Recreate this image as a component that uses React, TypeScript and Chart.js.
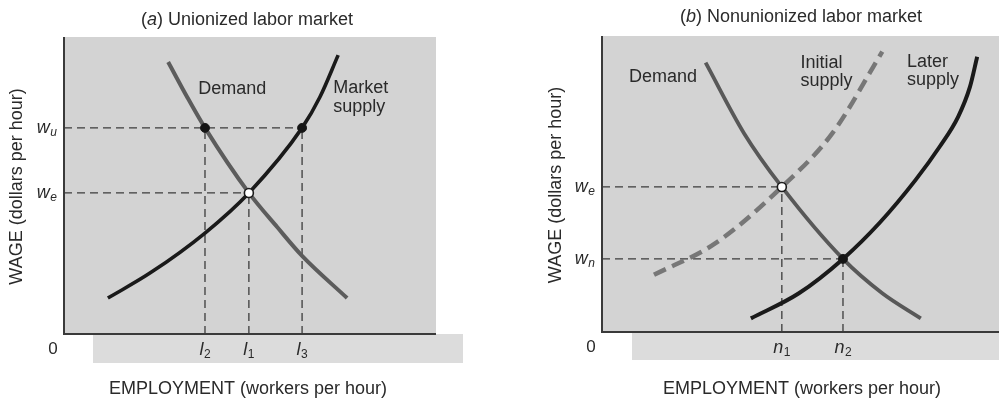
import React, { useEffect, useRef } from "react";
import { Chart, registerables } from "chart.js";

Chart.register(...registerables);

// ---------- Panel (a): unionized labor market ----------
const leftTitle = ["(", "a", ") Unionized labor market"];
const leftDemandX = [28.0, 33.1, 37.9, 49.7, 57.3, 64.0, 76.1];
const leftDemandY = [91.6, 79.8, 69.4, 47.5, 36.0, 26.3, 12.1];
const leftSupplyX = [11.8, 23.1, 37.9, 49.7, 64.0, 68.8, 73.7];
const leftSupplyY = [12.1, 20.5, 34.0, 47.5, 69.4, 79.8, 93.9];
const L2 = 37.9;
const L1 = 49.7;
const L3 = 64.0;
const WU = 69.4;
const WE_A = 47.5;
const leftXTicks = [
  { value: L2, main: "l", sub: "2" },
  { value: L1, main: "l", sub: "1" },
  { value: L3, main: "l", sub: "3" },
];
const leftYTicks = [
  { value: WU, main: "w", sub: "u" },
  { value: WE_A, main: "w", sub: "e" },
];
const leftCurveLabels = [
  { lines: ["Demand"], x: 36.1, y: [82.6] },
  { lines: ["Market", "supply"], x: 72.4, y: [82.7, 76.5] },
];

// ---------- Panel (b): nonunionized labor market ----------
const rightTitle = ["(", "b", ") Nonunionized labor market"];
const rightDemandX = [26.1, 35.8, 45.3, 60.7, 70.6, 80.3];
const rightDemandY = [91.0, 67.1, 49.0, 24.7, 13.1, 4.6];
const initialSupplyX = [13.1, 28.6, 45.3, 58.0, 70.6];
const initialSupplyY = [19.3, 30.0, 49.0, 67.1, 94.7];
const laterSupplyX = [37.5, 49.6, 60.7, 70.0, 79.0, 85.0, 89.7, 92.7, 94.5];
const laterSupplyY = [4.6, 13.1, 24.7, 37.0, 51.4, 62.5, 72.7, 82.9, 93.0];
const N1 = 45.3;
const N2 = 60.7;
const WE_B = 49.0;
const WN = 24.7;
const rightXTicks = [
  { value: N1, main: "n", sub: "1" },
  { value: N2, main: "n", sub: "2" },
];
const rightYTicks = [
  { value: WE_B, main: "w", sub: "e" },
  { value: WN, main: "w", sub: "n" },
];
const rightCurveLabels = [
  { lines: ["Demand"], x: 6.8, y: [86.1] },
  { lines: ["Initial", "supply"], x: 50.0, y: [90.9, 84.8] },
  { lines: ["Later", "supply"], x: 76.8, y: [91.1, 85.0] },
];

const xTitle = "EMPLOYMENT (workers per hour)";
const yTitle = "WAGE (dollars per hour)";

const FONT = '"Liberation Sans", Arial, Helvetica, sans-serif';
const TEXT = "#2a2a2a";
const BOX = "#d3d3d3";
const STRIP = "#dcdcdc";

const pts = (xs: number[], ys: number[]) => xs.map((x, i) => ({ x, y: ys[i] }));

function curve(xs: number[], ys: number[], color: string, width: number, dash?: number[]) {
  return {
    data: pts(xs, ys),
    showLine: true,
    borderColor: color,
    borderWidth: width,
    borderDash: dash || [],
    borderCapStyle: "butt",
    cubicInterpolationMode: "monotone",
    pointRadius: 0,
    fill: false,
  };
}

function guide(a: { x: number; y: number }, b: { x: number; y: number }) {
  return {
    data: [a, b],
    showLine: true,
    borderColor: "#3c3c3c",
    borderWidth: 1.3,
    borderDash: [8, 5],
    pointRadius: 0,
    tension: 0,
    fill: false,
  };
}

function dots(list: { x: number; y: number }[], open: boolean) {
  return {
    data: list,
    showLine: false,
    pointRadius: 4.5,
    pointBackgroundColor: open ? "#ffffff" : "#151515",
    pointBorderColor: "#1c1c1c",
    pointBorderWidth: open ? 1.6 : 1,
  };
}

function drawSub(ctx: CanvasRenderingContext2D, main: string, sub: string, x: number, y: number, align: string) {
  ctx.font = `italic 18px ${FONT}`;
  const wm = ctx.measureText(main).width;
  const subIsDigit = /\d/.test(sub);
  const subFont = `${subIsDigit ? "" : "italic "}12px ${FONT}`;
  ctx.font = subFont;
  const ws = ctx.measureText(sub).width;
  const total = wm + ws + 0.5;
  const start = align === "right" ? x - total : x - total / 2;
  ctx.textAlign = "left";
  ctx.textBaseline = "middle";
  ctx.fillStyle = TEXT;
  ctx.font = `italic 18px ${FONT}`;
  ctx.fillText(main, start, y);
  ctx.font = subFont;
  ctx.fillText(sub, start + wm + 0.5, y + 5);
}

type PanelCfg = {
  width: number;
  padding: { left: number; right: number; top: number; bottom: number };
  title: string[];
  titleX: number;
  titleY: number;
  xTitleX: number;
  yTitleOffset: number;
  stripLeft: number;
  stripRight: number;
  stripBottom: number;
  xTicks: { value: number; main: string; sub: string }[];
  yTicks: { value: number; main: string; sub: string }[];
  labels: { lines: string[]; x: number; y: number[] }[];
  datasets: any[];
};

function makePlugin(cfg: PanelCfg) {
  return {
    id: "panelDecor",
    beforeDatasetsDraw(chart: any) {
      const { ctx, chartArea: a } = chart;
      ctx.save();
      ctx.fillStyle = STRIP;
      ctx.fillRect(a.left + cfg.stripLeft, a.bottom, a.right + cfg.stripRight - (a.left + cfg.stripLeft), cfg.stripBottom);
      ctx.fillStyle = BOX;
      ctx.fillRect(a.left, a.top, a.right - a.left, a.bottom - a.top);
      ctx.restore();
    },
    afterDatasetsDraw(chart: any) {
      const { ctx, chartArea: a, scales } = chart;
      const xs = scales.x;
      const ys = scales.y;
      ctx.save();
      // axes
      ctx.strokeStyle = "#3a3a3a";
      ctx.lineWidth = 2;
      ctx.setLineDash([]);
      ctx.beginPath();
      ctx.moveTo(a.left, a.top);
      ctx.lineTo(a.left, a.bottom);
      ctx.lineTo(a.right, a.bottom);
      ctx.stroke();

      // origin
      ctx.fillStyle = TEXT;
      ctx.font = `17px ${FONT}`;
      ctx.textAlign = "center";
      ctx.textBaseline = "middle";
      ctx.fillText("0", a.left - 11, a.bottom + 15);

      // ticks
      cfg.xTicks.forEach((t) => drawSub(ctx, t.main, t.sub, xs.getPixelForValue(t.value), a.bottom + 16, "center"));
      cfg.yTicks.forEach((t) => drawSub(ctx, t.main, t.sub, a.left - 7, ys.getPixelForValue(t.value), "right"));

      // curve labels
      ctx.fillStyle = TEXT;
      ctx.font = `18px ${FONT}`;
      ctx.textAlign = "left";
      ctx.textBaseline = "middle";
      cfg.labels.forEach((l) => {
        l.lines.forEach((line, i) => {
          ctx.fillText(line, xs.getPixelForValue(l.x), ys.getPixelForValue(l.y[i]));
        });
      });

      // titles
      const tx = cfg.titleX;
      ctx.textBaseline = "middle";
      ctx.font = `18px ${FONT}`;
      const p1 = ctx.measureText(cfg.title[0]).width;
      const p3 = ctx.measureText(cfg.title[2]).width;
      ctx.font = `italic 18px ${FONT}`;
      const p2 = ctx.measureText(cfg.title[1]).width;
      let sx = tx - (p1 + p2 + p3) / 2;
      ctx.textAlign = "left";
      ctx.font = `18px ${FONT}`;
      ctx.fillText(cfg.title[0], sx, cfg.titleY);
      sx += p1;
      ctx.font = `italic 18px ${FONT}`;
      ctx.fillText(cfg.title[1], sx, cfg.titleY);
      sx += p2;
      ctx.font = `18px ${FONT}`;
      ctx.fillText(cfg.title[2], sx, cfg.titleY);

      ctx.textAlign = "center";
      ctx.fillText(xTitle, cfg.xTitleX, 389);

      ctx.translate(a.left - cfg.yTitleOffset, (a.top + a.bottom) / 2 + 1);
      ctx.rotate(-Math.PI / 2);
      ctx.fillText(yTitle, 0, 0);
      ctx.restore();
    },
  };
}

function Panel({ cfg, left }: { cfg: PanelCfg; left: number }) {
  const ref = useRef<HTMLCanvasElement | null>(null);
  useEffect(() => {
    if (!ref.current) return;
    const chart = new Chart(ref.current, {
      type: "scatter",
      data: { datasets: cfg.datasets },
      options: {
        animation: false,
        responsive: false,
        maintainAspectRatio: false,
        events: [],
        layout: { padding: cfg.padding, autoPadding: false },
        scales: {
          x: { type: "linear", min: 0, max: 100, display: false },
          y: { type: "linear", min: 0, max: 100, display: false },
        },
        plugins: {
          legend: { display: false },
          tooltip: { enabled: false },
          title: { display: false },
        },
      } as any,
      plugins: [makePlugin(cfg)],
    } as any);
    return () => chart.destroy();
  }, []);
  return (
    <canvas
      ref={ref}
      width={cfg.width}
      height={401}
      style={{ position: "absolute", left, top: 0, width: cfg.width, height: 401 }}
    />
  );
}

const leftCfg: PanelCfg = {
  width: 499,
  padding: { left: 64, right: 63, top: 37, bottom: 67 },
  title: leftTitle,
  titleX: 247,
  titleY: 20,
  xTitleX: 248,
  yTitleOffset: 47,
  stripLeft: 29,
  stripRight: 27,
  stripBottom: 29,
  xTicks: leftXTicks,
  yTicks: leftYTicks,
  labels: leftCurveLabels,
  datasets: [
    dots([{ x: L2, y: WU }, { x: L3, y: WU }], false),
    dots([{ x: L1, y: WE_A }], true),
    curve(leftDemandX, leftDemandY, "#5c5c5c", 4),
    curve(leftSupplyX, leftSupplyY, "#1a1a1a", 3.6),
    guide({ x: 0, y: WU }, { x: L3, y: WU }),
    guide({ x: 0, y: WE_A }, { x: L1, y: WE_A }),
    guide({ x: L2, y: 0 }, { x: L2, y: WU }),
    guide({ x: L1, y: 0 }, { x: L1, y: WE_A }),
    guide({ x: L3, y: 0 }, { x: L3, y: WU }),
  ],
};

const rightCfg: PanelCfg = {
  width: 500,
  padding: { left: 103, right: 0, top: 36, bottom: 69 },
  title: rightTitle,
  titleX: 302,
  titleY: 17,
  xTitleX: 303,
  yTitleOffset: 46,
  stripLeft: 30,
  stripRight: 0,
  stripBottom: 28,
  xTicks: rightXTicks,
  yTicks: rightYTicks,
  labels: rightCurveLabels,
  datasets: [
    dots([{ x: N2, y: WN }], false),
    dots([{ x: N1, y: WE_B }], true),
    curve(rightDemandX, rightDemandY, "#585858", 3.8),
    curve(laterSupplyX, laterSupplyY, "#1a1a1a", 4),
    curve(initialSupplyX, initialSupplyY, "#777777", 4.5, [13, 7]),
    guide({ x: 0, y: WE_B }, { x: N1, y: WE_B }),
    guide({ x: 0, y: WN }, { x: N2, y: WN }),
    guide({ x: N1, y: 0 }, { x: N1, y: WE_B }),
    guide({ x: N2, y: 0 }, { x: N2, y: WN }),
  ],
};

export default function App() {
  return (
    <div style={{ position: "fixed", left: 0, top: 0, width: 999, height: 401, background: "#ffffff", overflow: "hidden" }}>
      <Panel cfg={leftCfg} left={0} />
      <Panel cfg={rightCfg} left={499} />
    </div>
  );
}
